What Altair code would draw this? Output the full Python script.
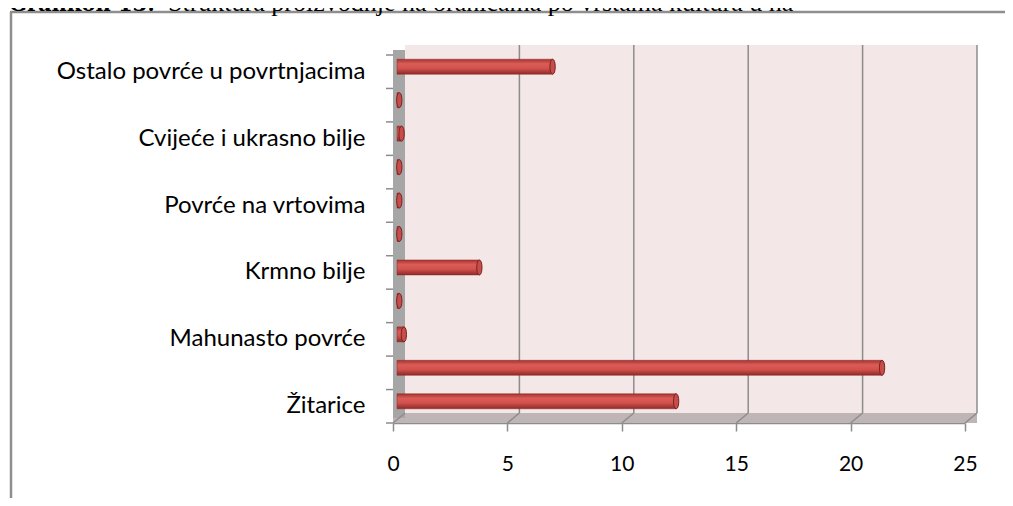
import json
import altair as alt
import pandas as pd

# ---- data ----
labels = ["Žitarice", "", "Mahunasto povrće", "", "Krmno bilje", "",
          "Povrće na vrtovima", "", "Cvijeće i ukrasno bilje", "",
          "Ostalo povrće u povrtnjacima"]
values = [12.2, 21.2, 0.3, 0.1, 3.6, 0.1, 0.1, 0.1, 0.2, 0.1, 6.8]
x_ticks = [0, 5, 10, 15, 20, 25]
title_bold = "Grafikon 13:"
title_rest = "Struktura proizvodnje na oranicama po vrstama kultura u ha"

# ---- layout / style ----
W, H = 572, 368
DX, DY = 12, -10           # 3D depth offset of the back wall
BAND = H / len(labels)
FONT = "Lato"
GRID = "#8c8c8c"

df = pd.DataFrame({"idx": list(range(len(labels))), "value": values})
tick_df = pd.DataFrame({"t": x_ticks})
grid_df = pd.DataFrame({"t": x_ticks[1:]})
span = pd.DataFrame({"x0": [x_ticks[0]], "x1": [x_ticks[-1]]})

xscale = alt.Scale(domain=[x_ticks[0], x_ticks[-1]], nice=False, zero=True)
yscale = alt.Scale(domain=list(range(len(labels) - 1, -1, -1)),
                   paddingInner=0, paddingOuter=0)

labels_js = json.dumps(labels, ensure_ascii=False)

xaxis = alt.Axis(values=x_ticks, grid=False, title=None,
                 domainColor=GRID, domainWidth=1.5,
                 tickColor=GRID, tickWidth=1.5, tickSize=8,
                 labelPadding=22, labelFont=FONT, labelFontSize=21,
                 labelColor="black", labelFlush=False)
yaxis = alt.Axis(labelExpr=f"{labels_js}[datum.value]", ticks=False,
                 domain=False, title=None, labelPadding=28,
                 labelFont=FONT, labelFontSize=24, labelColor="black",
                 labelLimit=400)

# back wall
wall = alt.Chart(span).mark_rect(color="#f4e7e7", xOffset=DX, x2Offset=DX,
                                 yOffset=DY, y2Offset=DY).encode(
    x=alt.X("x0:Q", scale=xscale, axis=xaxis), x2="x1:Q",
    y=alt.value(0), y2=alt.value(H))

# floor
floor = alt.Chart(span).mark_rect(color="#c0b5b5", x2Offset=DX).encode(
    x=alt.X("x0:Q", scale=xscale, axis=xaxis), x2="x1:Q",
    y=alt.value(H + DY), y2=alt.value(H))

# left side wall
side = alt.Chart(span).mark_rect(color="#a6a6a6").encode(
    x=alt.value(0), x2=alt.value(DX),
    y=alt.value(DY / 2), y2=alt.value(H + DY / 2))

# gridlines on back wall
grid = alt.Chart(grid_df).mark_rule(color=GRID, strokeWidth=1.5, xOffset=DX).encode(
    x=alt.X("t:Q", scale=xscale, axis=xaxis),
    y=alt.value(DY), y2=alt.value(H + DY))

# floor connectors
conn = alt.Chart(tick_df).mark_rule(color=GRID, strokeWidth=1.5, x2Offset=DX).encode(
    x=alt.X("t:Q", scale=xscale, axis=xaxis), x2="t:Q",
    y=alt.value(H), y2=alt.value(H + DY))

# y ticks at band boundaries
yticks = alt.Chart(df).mark_rule(color=GRID, strokeWidth=1.5, yOffset=-BAND / 2).encode(
    y=alt.Y("idx:O", scale=yscale, axis=yaxis),
    x=alt.value(-7), x2=alt.value(0))
ybottom = alt.Chart(span).mark_rule(color=GRID, strokeWidth=1.5).encode(
    x=alt.value(-7), x2=alt.value(0), y=alt.value(H))

grad = alt.LinearGradient(
    gradient="linear", x1=0, y1=0, x2=0, y2=1,
    stops=[alt.GradientStop(color="#a8322f", offset=0),
           alt.GradientStop(color="#d95c57", offset=0.3),
           alt.GradientStop(color="#d4524e", offset=0.6),
           alt.GradientStop(color="#8e2a28", offset=1)])

bars = alt.Chart(df).mark_bar(size=15, fill=grad, stroke="#8a2a28", strokeWidth=0.5,
                              xOffset=4, x2Offset=4, yOffset=-5).encode(
    x=alt.X("value:Q", scale=xscale, axis=xaxis),
    y=alt.Y("idx:O", scale=yscale, axis=yaxis))

ELLIPSE = "M0,-1C0.47,-1 0.47,1 0,1C-0.47,1 -0.47,-1 0,-1Z"
caps = alt.Chart(df).mark_point(shape=ELLIPSE, size=225, filled=True, opacity=1,
                                fill="#c64d49", stroke="#7a2220", strokeWidth=1,
                                xOffset=4, yOffset=-5).encode(
    x=alt.X("value:Q", scale=xscale, axis=xaxis),
    y=alt.Y("idx:O", scale=yscale, axis=yaxis))

# outer frame
frame_v = alt.Chart(span).mark_rule(color="#8e8e8e", strokeWidth=2.5).encode(
    x=alt.value(-382), y=alt.value(-43), y2=alt.value(H + 90))
frame_h = alt.Chart(span).mark_rule(color="#8e8e8e", strokeWidth=2.5).encode(
    x=alt.value(-383), x2=alt.value(W + 60), y=alt.value(-43))

# title (cropped at the top of the page as in the reference)
t1 = alt.Chart(span).mark_text(align="left", baseline="alphabetic",
                               font="DejaVu Serif", fontSize=21,
                               fontWeight="bold").encode(
    x=alt.value(-384), y=alt.value(-44), text=alt.value(title_bold))
t2 = alt.Chart(span).mark_text(align="left", baseline="alphabetic",
                               font="Liberation Serif", fontSize=26).encode(
    x=alt.value(-225), y=alt.value(-44), text=alt.value(title_rest))

chart = alt.layer(
    wall, floor, side, grid, conn, yticks, ybottom, bars, caps,
    frame_v, frame_h, t1, t2
).properties(
    width=W, height=H,
    padding={"left": 385, "top": 47, "right": 40, "bottom": 75},
    autosize=alt.AutoSizeParams(type="none"),
    background="white",
).configure_view(stroke=None)

chart.save("out.html", embed_options={"renderer": "svg", "actions": False})
